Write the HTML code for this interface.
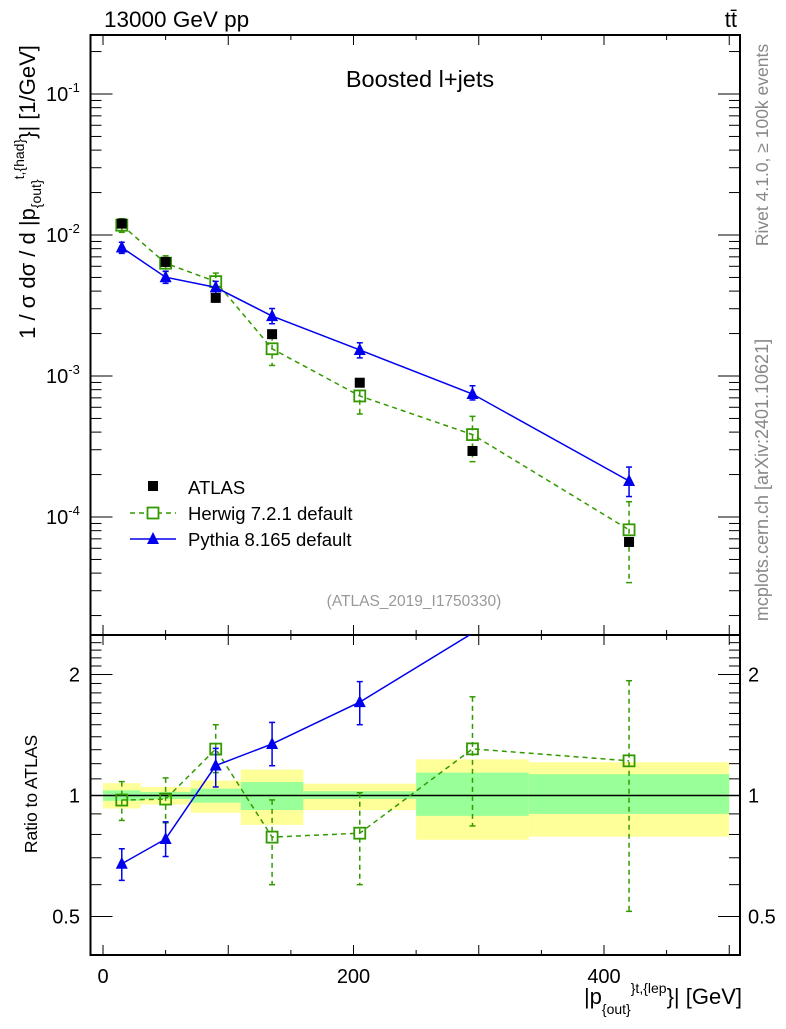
<!DOCTYPE html>
<html><head><meta charset="utf-8"><style>
body{margin:0;background:#fff}
svg text{font-family:"Liberation Sans",sans-serif}
</style></head><body>
<svg id="c" width="786" height="1024" xmlns="http://www.w3.org/2000/svg"></svg>
<script>
const binEdges=[0,30,70,110,160,250,340,500];
const xCenters=[15,50,90,135,205,295,420];
const atlas=[0.01205,0.00644,0.00358,0.00198,0.000896,0.000294,0.0000665];
const herwig=[0.01174,0.00631,0.00467,0.00156,0.000722,0.000384,0.0000811];
const pythia=[0.00815,0.00502,0.00425,0.00266,0.00153,0.000745,0.00018];
const herwigRatioUp=[1.083,1.106,1.5,0.975,1.016,1.76,1.93];
const herwigRatioDn=[0.867,0.855,1.14,0.60,0.60,0.84,0.515];
const pythiaRatioUp=[0.737,0.86,1.31,1.52,1.92,2.9,3.4];
const pythiaRatioDn=[0.615,0.705,1.05,1.186,1.5,2.3,2.1];
const bandYellowUp=[1.073,1.05,1.09,1.16,1.07,1.23,1.21];
const bandYellowDn=[0.928,0.95,0.906,0.845,0.92,0.776,0.79];
const bandGreenUp=[1.03,1.02,1.04,1.08,1.025,1.14,1.13];
const bandGreenDn=[0.97,0.98,0.96,0.92,0.98,0.89,0.90];
const yMainTicks=[-1,-2,-3,-4];
const yRatioTicks=[2,1,0.5];
const xTicks=[0,200,400];

const NS="http://www.w3.org/2000/svg";
const svg=document.getElementById('c');
function el(t,a,p){const e=document.createElementNS(NS,t);for(const k in a)e.setAttribute(k,a[k]);(p||svg).appendChild(e);return e;}
const L=90.5,R=740,T=35,M=635,B=955;
const X=v=>103+1.2525*v;
const YM=v=>235-141*(Math.log10(v)+2);
const YR=v=>795.5-121*Math.log2(v);

const defs=el('defs',{});
const cp1=el('clipPath',{id:'cm'},defs);el('rect',{x:L,y:T,width:R-L,height:M-T},cp1);
const cp2=el('clipPath',{id:'cr'},defs);el('rect',{x:L,y:M,width:R-L,height:B-M},cp2);

const gb=el('g',{'clip-path':'url(#cr)'});

for(let i=0;i<7;i++){
 const x0=X(binEdges[i]),x1=X(binEdges[i+1]);
 const y=el('rect',{x:x0,y:YR(bandYellowUp[i]),width:x1-x0,height:YR(bandYellowDn[i])-YR(bandYellowUp[i]),fill:'#ffff99'},gb);
 
 const g=el('rect',{x:x0,y:YR(bandGreenUp[i]),width:x1-x0,height:YR(bandGreenDn[i])-YR(bandGreenUp[i]),fill:'#99ff99'},gb);
 
}
const one=el('line',{x1:L,x2:R,y1:YR(1),y2:YR(1),stroke:'#000','stroke-width':1.5});


for(const [y0,y1] of [[T,M],[M,B]]){
 const f=el('rect',{x:L,y:y0,width:R-L,height:y1-y0,fill:'none',stroke:'#000','stroke-width':2});
 
}
for(let v=0;v<=500;v+=50){
 const big=v%100===0,len=big?10:5,x=X(v);
 for(const [y,d] of [[T,1],[M,-1],[M,1],[B,-1]]) el('line',{x1:x,x2:x,y1:y,y2:y+d*len,stroke:'#000','stroke-width':1});
}
for(const v of xTicks){const t=el('text',{x:X(v),y:983,'font-size':20,'text-anchor':'middle'});t.textContent=v;
 }
for(let d=-5;d<=-1;d++){for(let m=1;m<10;m++){const v=m*Math.pow(10,d),y=YM(v);if(y<T||y>M)continue;
 const len=m===1?22:11;
 el('line',{x1:L,x2:L+len,y1:y,y2:y,stroke:'#000','stroke-width':1});
 el('line',{x1:R,x2:R-len,y1:y,y2:y,stroke:'#000','stroke-width':1});}}
for(const d of yMainTicks){const t=el('text',{x:46,y:YM(Math.pow(10,d))+7,'font-size':20});
 t.innerHTML='10<tspan dy="-9" font-size="13">'+d+'</tspan>';
 }
for(let v=0.4;v<=2.5;v+=0.1){const y=YR(v);if(y<M||y>B)continue;const big=[0.5,1,2].some(k=>Math.abs(k-v)<1e-6);
 const len=big?22:11;
 el('line',{x1:L,x2:L+len,y1:y,y2:y,stroke:'#000','stroke-width':1});
 el('line',{x1:R,x2:R-len,y1:y,y2:y,stroke:'#000','stroke-width':1});}
for(const v of yRatioTicks){for(const [x,a] of [[80,'end'],[748,'start']]){
 const t=el('text',{x:x,y:YR(v)+7,'font-size':20,'text-anchor':a});t.textContent=v;
 }}

function series(vals,color,dash,marker,clip,Y,up,dn,name,yMin){
 const g=el('g',{'clip-path':clip});
 if(color){const pts=vals.map((v,i)=>X(xCenters[i])+','+Y(v)).join(' ');
  el('polyline',{points:pts,fill:'none',stroke:color,'stroke-width':1.5,'stroke-dasharray':dash||'none'},g);}
 vals.forEach((v,i)=>{const x=X(xCenters[i]),y=Y(v);
  if(y<yMin)return;
  if(up){const yu=Y(up[i]),yd=Y(dn[i]);
   el('line',{x1:x,x2:x,y1:yu,y2:yd,stroke:color,'stroke-width':1.5,'stroke-dasharray':dash||'none'},g);
   el('line',{x1:x-3,x2:x+3,y1:yu,y2:yu,stroke:color,'stroke-width':1.5},g);
   el('line',{x1:x-3,x2:x+3,y1:yd,y2:yd,stroke:color,'stroke-width':1.5},g);}
  let m;
  if(marker==='sq')m=el('rect',{x:x-5,y:y-5,width:10,height:10,fill:'#000'},g);
  else if(marker==='osq')m=el('rect',{x:x-5.5,y:y-5.5,width:11,height:11,fill:'none',stroke:color,'stroke-width':1.8},g);
  else m=el('polygon',{points:`${x},${y-7} ${x-6},${y+5} ${x+6},${y+5}`,fill:color},g);
  
 });
}
const hU=herwig.map((v,i)=>herwigRatioUp[i]*atlas[i]), hD=herwig.map((v,i)=>herwigRatioDn[i]*atlas[i]);
const pU=pythia.map((v,i)=>pythiaRatioUp[i]*atlas[i]), pD=pythia.map((v,i)=>pythiaRatioDn[i]*atlas[i]);
series(herwig,'#339900','5,4','osq','url(#cm)',YM,hU,hD,'herwig-series',0);
series(pythia,'#0000ee',null,'tri','url(#cm)',YM,pU,pD,'pythia-series',0);
series(atlas,null,null,'sq','url(#cm)',YM,null,null,'atlas-series',0);
series(herwig.map((v,i)=>v/atlas[i]),'#339900','5,4','osq','url(#cr)',YR,herwigRatioUp,herwigRatioDn,'herwig-ratio',M+3);
series(pythia.map((v,i)=>v/atlas[i]),'#0000ee',null,'tri','url(#cr)',YR,pythiaRatioUp,pythiaRatioDn,'pythia-ratio',M+3);

const lg=el('g',{});
el('rect',{x:148,y:481,width:10,height:10,fill:'#000'},lg);
el('line',{x1:130,x2:176,y1:513,y2:513,stroke:'#339900','stroke-width':1.5,'stroke-dasharray':'5,4'},lg);
el('rect',{x:147.5,y:507.5,width:11,height:11,fill:'#fff',stroke:'#339900','stroke-width':1.8},lg);
el('line',{x1:130,x2:176,y1:539,y2:539,stroke:'#0000ee','stroke-width':1.5},lg);
el('polygon',{points:'153,532 147,544 159,544',fill:'#0000ee'},lg);
[['ATLAS',494],['Herwig 7.2.1 default',520],['Pythia 8.165 default',546]].forEach(([s,y])=>{
 const t=el('text',{x:188,y:y,'font-size':18.5},lg);t.textContent=s;});
</script>
<svg style="position:absolute;left:0;top:0" width="786" height="1024" xmlns="http://www.w3.org/2000/svg">
<text x="104" y="27" font-size="22.5" font-family="Liberation Sans">13000 GeV pp</text>
<text x="737" y="27" font-size="22" text-anchor="end" font-family="Liberation Sans">tt̄</text>
<text x="420" y="87" font-size="23.5" text-anchor="middle" font-family="Liberation Sans">Boosted l+jets</text>
<text x="414" y="606" font-size="15.5" fill="#999" text-anchor="middle" font-family="Liberation Sans">(ATLAS_2019_I1750330)</text>
<text transform="translate(768,145) rotate(-90)" font-size="17.5" fill="#888" text-anchor="middle" font-family="Liberation Sans">Rivet 4.1.0, ≥ 100k events</text>
<text transform="translate(768,480) rotate(-90)" font-size="18" fill="#888" text-anchor="middle" font-family="Liberation Sans">mcplots.cern.ch [arXiv:2401.10621]</text>
<text transform="translate(35,192) rotate(-90)" font-size="22" text-anchor="middle" font-family="Liberation Sans">1 / σ dσ / d |p<tspan dy="6" font-size="14">{out}</tspan><tspan dy="-17" font-size="14">t,{had}</tspan><tspan dy="11">}| [1/GeV]</tspan></text>
<text transform="translate(37,794) rotate(-90)" font-size="17.5" text-anchor="middle" font-family="Liberation Sans">Ratio to ATLAS</text>
<text x="742" y="1004" font-size="22" text-anchor="end" font-family="Liberation Sans">|p<tspan dy="10" font-size="14">{out}</tspan><tspan dy="-21" font-size="14">}t,{lep</tspan><tspan dy="11">}| [GeV]</tspan></text>
</svg>
</body></html>
